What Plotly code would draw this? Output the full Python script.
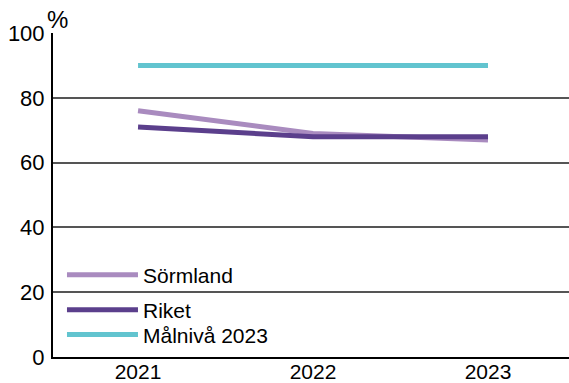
import plotly.graph_objects as go

years = ["2021", "2022", "2023"]
sormland = [76, 69, 67]
riket = [71, 68, 68]
malniva = [90, 90, 90]
y_ticks = [0, 20, 40, 60, 80, 100]

fig = go.Figure()
fig.add_trace(go.Scatter(x=years, y=sormland, name="Sörmland", mode="lines",
                         line=dict(color="#a98bbf", width=5), legend="legend"))
fig.add_trace(go.Scatter(x=years, y=riket, name="Riket", mode="lines",
                         line=dict(color="#5b3f8c", width=5), legend="legend2"))
fig.add_trace(go.Scatter(x=years, y=malniva, name="Målnivå 2023", mode="lines",
                         line=dict(color="#62c4cf", width=5), legend="legend3"))

leg = dict(x=0.0174, xanchor="left", yanchor="middle",
           bgcolor="rgba(0,0,0,0)", font=dict(size=21), itemwidth=71)

fig.update_layout(
    width=569, height=383,
    margin=dict(l=53, r=0, t=33, b=26),
    paper_bgcolor="white", plot_bgcolor="white",
    font=dict(family="Liberation Sans, Arial", size=22, color="black"),
    showlegend=True,
    legend=dict(leg, y=0.253),
    legend2=dict(leg, y=0.145),
    legend3=dict(leg, y=0.068),
    xaxis=dict(type="category", range=[-0.486, 2.463], showgrid=False,
               showline=True, linecolor="black", linewidth=2, ticks="",
               tickfont=dict(size=21), automargin=False, ticklabelstandoff=-5),
    yaxis=dict(range=[0, 100], tickvals=y_ticks, showgrid=True,
               gridcolor="#555555", gridwidth=1.5, showline=True,
               linecolor="black", linewidth=2, ticks="", zeroline=False,
               tickfont=dict(size=22), ticklabelstandoff=2, automargin=False),
)
fig.add_annotation(text="%", xref="paper", yref="paper", x=0.008, y=1,
                   xanchor="center", yanchor="bottom", showarrow=False,
                   font=dict(size=24), yshift=-2)

# page body has a default 8px margin; remove it so the figure fills the window
fig.write_html("out.html", config={"displayModeBar": False},
               post_script="document.body.style.margin='0';")
